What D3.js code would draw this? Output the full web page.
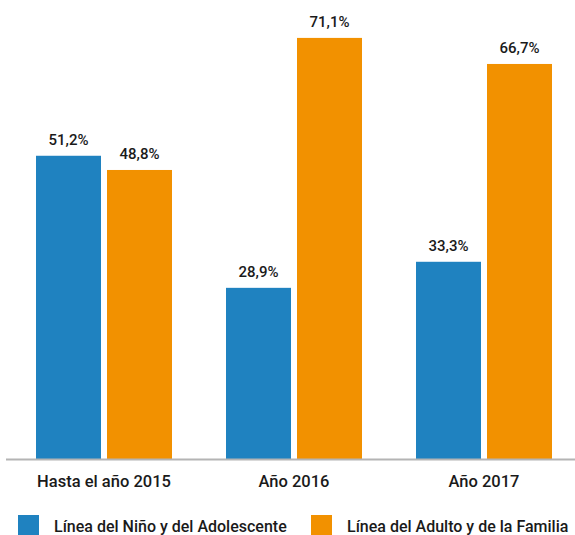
<!DOCTYPE html>
<html>
<head>
<meta charset="utf-8">
<script src="https://cdn.jsdelivr.net/npm/d3@7"></script>
<style>
  body { margin: 0; background: #fff; }
  svg text { font-family: Roboto, "DejaVu Sans Condensed", sans-serif; font-weight: 500; fill: #1a1a1a; }
</style>
</head>
<body>
<div id="chart"></div>
<script>
// data
var groups = ["Hasta el año 2015", "Año 2016", "Año 2017"];
var seriesNames = ["Línea del Niño y del Adolescente", "Línea del Adulto y de la Familia"];
var ninoVals = [51.2, 28.9, 33.3];
var adultoVals = [48.8, 71.1, 66.7];

var colors = ["#1f82c0", "#f29100"];

var width = 575, height = 535;
var baseY = 459;

var svg = d3.select("#chart").append("svg")
    .attr("width", width)
    .attr("height", height);

var rows = groups.map(function(g, i) {
    return { group: g, vals: [ninoVals[i], adultoVals[i]] };
});

// group scale, then series inside each group
var x0 = d3.scaleBand()
    .domain(groups)
    .range([9, 579])
    .padding(0);

var x1 = d3.scaleBand()
    .domain([0, 1])
    .range([0, 136])
    .paddingInner(6 / 71);

var y = d3.scaleLinear()
    .domain([0, 77.5])
    .range([baseY, 0]);

var fmt = function(v) { return v.toFixed(1).replace(".", ",") + "%"; };

var g = svg.selectAll(".grp")
    .data(rows)
  .enter().append("g")
    .attr("class", "grp")
    .attr("transform", function(d) {
        return "translate(" + (x0(d.group) + (x0.bandwidth() - 136) / 2) + ",0)";
    });

var bar = g.selectAll(".bar")
    .data(function(d) { return d.vals.map(function(v, k) { return { k: k, v: v }; }); })
  .enter();

bar.append("rect")
    .attr("x", function(d) { return x1(d.k); })
    .attr("y", function(d) { return y(d.v); })
    .attr("width", x1.bandwidth())
    .attr("height", function(d) { return baseY - y(d.v); })
    .style("fill", function(d) { return colors[d.k]; });

bar.append("text")
    .attr("x", function(d) { return x1(d.k) + x1.bandwidth() / 2; })
    .attr("y", function(d) { return y(d.v) - 11; })
    .attr("text-anchor", "middle")
    .style("font-size", "15px")
    .text(function(d) { return fmt(d.v); });

// baseline
svg.append("line")
    .attr("x1", 6)
    .attr("x2", 575)
    .attr("y1", baseY + 0.5)
    .attr("y2", baseY + 0.5)
    .style("stroke", "#b4b4b4")
    .style("stroke-width", 2);

// category labels
svg.selectAll(".cat")
    .data(groups)
  .enter().append("text")
    .attr("class", "cat")
    .attr("x", function(d) { return x0(d) + x0.bandwidth() / 2; })
    .attr("y", 487)
    .attr("text-anchor", "middle")
    .style("font-size", "16.5px")
    .text(function(d) { return d; });

// legend
var legX = [18, 311];
var leg = svg.selectAll(".leg")
    .data(seriesNames)
  .enter().append("g")
    .attr("class", "leg")
    .attr("transform", function(d, i) { return "translate(" + legX[i] + ",515)"; });

leg.append("rect")
    .attr("width", 21)
    .attr("height", 20)
    .style("fill", function(d, i) { return colors[i]; });

leg.append("text")
    .attr("x", 36)
    .attr("y", 17)
    .style("font-size", "16px")
    .text(function(d) { return d; });
</script>
</body>
</html>
